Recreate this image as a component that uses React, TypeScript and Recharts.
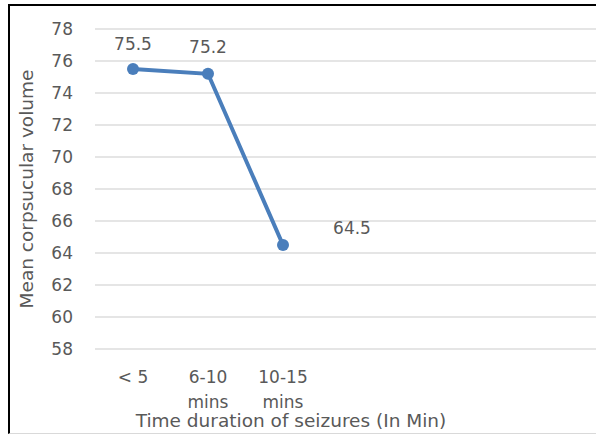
import React from 'react';
import { LineChart, Line, XAxis, YAxis, CartesianGrid, LabelList } from 'recharts';

// categories and values
const durations = ['< 5', '6-10\nmins', '10-15\nmins'];
const meanVolume = [75.5, 75.2, 64.5];
const yTicks = [58, 60, 62, 64, 66, 68, 70, 72, 74, 76, 78];

const data = durations.map((d, i) => ({ duration: d, mcv: meanVolume[i] }));

const textColor = '#595959';
const lineColor = '#4a7ebb';
const font = '"DejaVu Sans", sans-serif';

// where each value label sits relative to its point
const labelOffsets = [
    { dx: 0, dy: -19 },
    { dx: 0, dy: -21 },
    { dx: 69, dy: -11 },
];

// eslint-disable-next-line @typescript-eslint/no-explicit-any
const DurationTick = (props: any) => {
    const { x, y, payload } = props;
    const lines = String(payload.value).split('\n');
    return (
        <text x={x} y={y + 32} textAnchor="middle" fill={textColor} fontSize={17} fontFamily={font}>
            {lines.map((l, i) => (
                <tspan key={i} x={x} dy={i === 0 ? 0 : 25}>{l}</tspan>
            ))}
        </text>
    );
};

// eslint-disable-next-line @typescript-eslint/no-explicit-any
const ValueLabel = (props: any) => {
    const { x, y, value, index } = props;
    const off = labelOffsets[index] || { dx: 0, dy: -20 };
    return (
        <text x={x + off.dx} y={y + off.dy} textAnchor="middle" fill={textColor} fontSize={17} fontFamily={font}>
            {value}
        </text>
    );
};

// eslint-disable-next-line @typescript-eslint/no-explicit-any
const YTitle = (props: any) => {
    const { viewBox } = props;
    const cy = viewBox.y + viewBox.height / 2;
    return (
        <text x={26} y={cy} transform={`rotate(-90, 26, ${cy})`} textAnchor="middle" dominantBaseline="central"
            fill={textColor} fontSize={18.5} fontFamily={font}>
            Mean corpsucular volume
        </text>
    );
};

// eslint-disable-next-line @typescript-eslint/no-explicit-any
const XTitle = (props: any) => {
    const { viewBox } = props;
    return (
        <text x={291} y={viewBox.y + 78} textAnchor="middle" fill={textColor} fontSize={18.5} fontFamily={font}>
            Time duration  of seizures (In Min)
        </text>
    );
};

export default function App() {
    return (
        <div style={{ position: 'absolute', left: 0, top: 0, width: 596, height: 434, overflow: 'hidden', background: '#fff' }}>
            <div style={{
                position: 'absolute', left: 8, top: 4, width: 620, height: 427,
                borderLeft: '2px solid #000', borderTop: '2px solid #000', borderBottom: '1px solid #d9d9d9'
            }} />
            <div style={{ position: 'absolute', left: 0, top: 0 }}>
                <LineChart width={596} height={434} data={data} margin={{ top: 29, right: 0, bottom: 0, left: 0 }}>
                    <CartesianGrid vertical={false} stroke="#dcdcdc" strokeWidth={1.5} />
                    <XAxis
                        dataKey="duration"
                        height={85}
                        axisLine={false}
                        tickLine={false}
                        tickSize={0}
                        padding={{ left: 38, right: 313 }}
                        interval={0}
                        tick={<DurationTick />}
                        label={<XTitle />}
                    />
                    <YAxis
                        width={95}
                        domain={[58, 78]}
                        ticks={yTicks}
                        axisLine={false}
                        tickLine={false}
                        tickSize={0}
                        tickMargin={22}
                        tick={{ fill: textColor, fontSize: 17, fontFamily: font }}
                        label={<YTitle />}
                    />
                    <Line
                        type="linear"
                        dataKey="mcv"
                        stroke={lineColor}
                        strokeWidth={4}
                        dot={{ r: 6, fill: lineColor, stroke: lineColor, strokeWidth: 0 }}
                        isAnimationActive={false}
                    >
                        <LabelList dataKey="mcv" content={<ValueLabel />} />
                    </Line>
                </LineChart>
            </div>
        </div>
    );
}
